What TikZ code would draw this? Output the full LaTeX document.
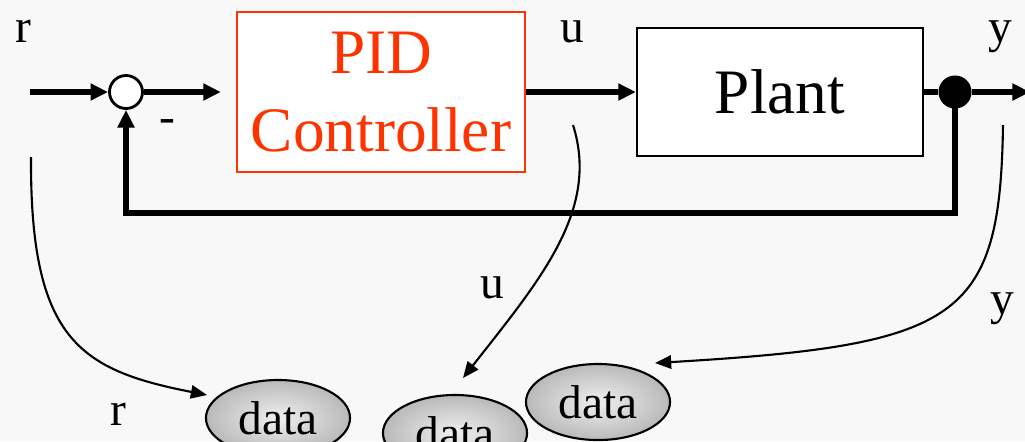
\documentclass[tikz,border=0pt]{standalone}
\usepackage{fontspec}
\setmainfont{Liberation Serif}
\usetikzlibrary{arrows.meta,shapes.geometric,positioning}
\definecolor{pidred}{RGB}{255,51,0}
\definecolor{bggray}{RGB}{248,248,248}

\begin{document}
\begin{tikzpicture}[x=0.01cm,y=-0.01cm,
  thickline/.style={line width=1.45pt,-{Triangle[length=5pt,width=4.6pt]}},
  thinline/.style={line width=0.6pt,-{Triangle[length=4.6pt,width=3.8pt]}},
  sumnode/.style={circle,draw,line width=0.8pt,fill=white,minimum size=0.33cm,inner sep=0pt},
  dotnode/.style={circle,fill=black,minimum size=0.33cm,inner sep=0pt},
  pidbox/.style={draw=pidred,line width=0.6pt,fill=white,text=pidred,minimum width=2.88cm,minimum height=1.6cm,inner sep=0pt,align=center,font=\fontsize{18}{22.2}\selectfont},
  plantbox/.style={draw,line width=0.6pt,fill=white,minimum width=2.86cm,minimum height=1.28cm,inner sep=0pt,font=\fontsize{18}{22}\selectfont},
  datanode/.style={ellipse,draw,line width=0.6pt,inner color=gray!12,outer color=gray!55,minimum width=1.44cm,minimum height=0.76cm,inner sep=0pt,font=\fontsize{13.5}{16}\selectfont},
  sig/.style={anchor=base,inner sep=0pt,font=\fontsize{13.5}{16}\selectfont}]
\fill[bggray] (0,0) rectangle (1025,441);
\useasboundingbox (0,0) rectangle (1025,441);

\node[sumnode] (sum) at (126,92) {};
\node[pidbox] (pid) at (381,92) {PID\\Controller};
\node[plantbox] (plant) at (780,92) {Plant};
\node[dotnode] (dot) at (955,92) {};
\coordinate (in) at (30,92);
\coordinate (out) at (1030,92);
\coordinate (fb) at (955,213);

\draw[thickline] (in) -- (sum);
\draw[thickline,shorten >=0.15cm] (sum) -- (pid);
\draw[thickline] (pid) -- (plant);
\draw[line width=1.45pt] (plant) -- (dot);
\draw[thickline] (dot) -- (out);
\draw[thickline] (dot.center) -- (fb) -| (sum);

\node[sig] (r1) at (23,42) {r};
\node[sig] (u1) at (572,42) {u};
\node[sig] (y1) at (1000,42) {y};
\node[sig] (minus) at (167,132) {-};

\node[datanode] (d1) at (278,418) {data};
\node[datanode] (d2) at (455,433) {data};
\node[datanode] (d3) at (598,402) {data};

\node[sig] (r2) at (118,425) {r};
\node[sig] (u2) at (492,298) {u};
\node[sig] (y2) at (1002,314) {y};

\coordinate (rs) at (31,157);
\coordinate (re) at (207,395);
\coordinate (us) at (573,125);
\coordinate (ue) at (463,378);
\coordinate (ys) at (1003,125);
\coordinate (ye) at (655,363);
\draw[thinline] (rs) .. controls (30,340) and (80,370) .. (re);
\draw[thinline] (us) .. controls (600,210) and (540,280) .. (ue);
\draw[thinline] (ys) .. controls (1000,320) and (960,345) .. (ye);
\end{tikzpicture}
\end{document}
